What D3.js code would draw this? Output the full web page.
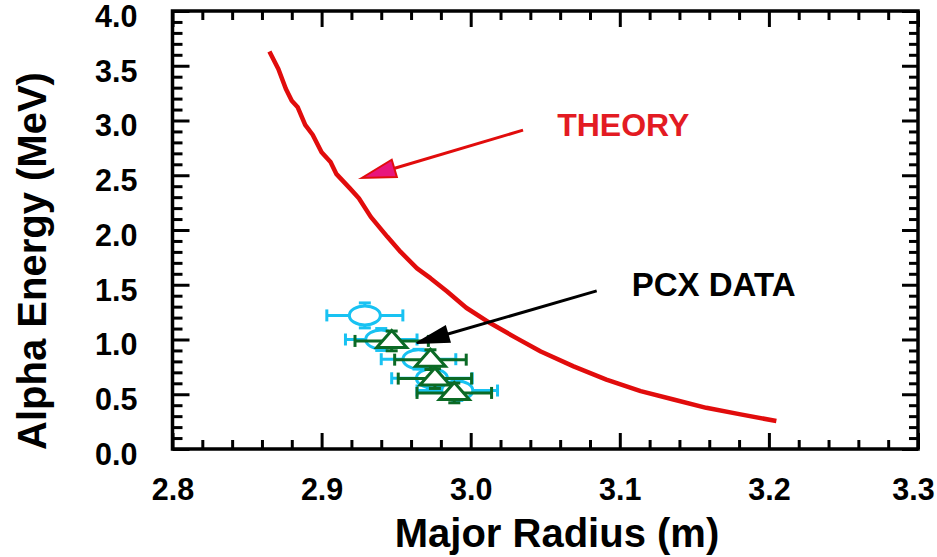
<!DOCTYPE html>
<meta charset="utf-8">
<style>
body { margin: 0; background: #fff; }
text { font-family: "Liberation Sans", Arial, sans-serif; font-weight: bold; }
.frame { fill: none; stroke: #000; stroke-width: 3.5; }
.tick line { stroke: #000; stroke-width: 3; }
</style>
<svg width="937" height="557"></svg>
<script src="https://d3js.org/d3.v7.min.js"></script>
<script>

// theory curve
var theoryR = [2.865, 2.871, 2.876, 2.880, 2.884, 2.889, 2.894, 2.900, 2.906, 2.910,
               2.919, 2.925, 2.933, 2.944, 2.953, 2.964, 2.973, 2.984, 2.997, 3.013,
               3.031, 3.047, 3.069, 3.091, 3.114, 3.136, 3.158, 3.181, 3.205];
var theoryE = [3.63, 3.47, 3.29, 3.18, 3.12, 2.96, 2.87, 2.71, 2.62, 2.51,
               2.38, 2.29, 2.12, 1.94, 1.80, 1.65, 1.56, 1.44, 1.29, 1.15,
               1.01, 0.89, 0.755, 0.634, 0.528, 0.452, 0.376, 0.316, 0.255];

// PCX data, circles (cyan)
var circR    = [2.929, 2.940, 2.965, 2.974, 2.991];
var circE    = [1.22, 1.00, 0.82, 0.646, 0.534];
var circRErr = [0.0255, 0.024, 0.025, 0.027, 0.027];
var circEErr = [0.114, 0.10, 0.09, 0.09, 0.09];

// PCX data, triangles (green)
var triR    = [2.947, 2.973, 2.976, 2.989];
var triE    = [0.987, 0.816, 0.643, 0.512];
var triRErr = [0.0246, 0.024, 0.0246, 0.025];
var triEErr = [0.09, 0.09, 0.09, 0.09];

var xTicks = [2.8, 2.9, 3.0, 3.1, 3.2, 3.3];
var yTicks = [0.0, 0.5, 1.0, 1.5, 2.0, 2.5, 3.0, 3.5, 4.0];

var svg = d3.select("svg");

var x = d3.scaleLinear().domain([2.8, 3.3]).range([172.5, 918]),
    y = d3.scaleLinear().domain([0, 4]).range([449, 11]);

var xMinor = d3.range(2.8, 3.3, 0.02).filter(function(v) { return Math.abs(v * 10 - Math.round(v * 10)) > 0.01; }),
    yMinor = d3.range(0, 4, 0.1).filter(function(v) { return Math.abs(v * 2 - Math.round(v * 2)) > 0.01; });

var fmt = d3.format(".1f");

// ticks on all four sides, pointing inward
function ticks(axis, vals, size, labels) {
  return axis.tickValues(vals).tickSize(-size).tickSizeOuter(0)
    .tickFormat(labels ? fmt : "");
}

var axBottom = svg.append("g").attr("transform", "translate(0," + y(0) + ")");
axBottom.call(ticks(d3.axisBottom(x), xMinor, 9, false));
var xLab = axBottom.append("g").call(ticks(d3.axisBottom(x), xTicks, 16, true).tickPadding(29));

var axLeft = svg.append("g").attr("transform", "translate(" + x(2.8) + ",0)");
axLeft.call(ticks(d3.axisLeft(y), yMinor, 10, false));
var yLab = axLeft.append("g").call(ticks(d3.axisLeft(y), yTicks, 17, true).tickPadding(35));

var axTop = svg.append("g").attr("transform", "translate(0," + y(4) + ")");
axTop.call(ticks(d3.axisTop(x), xMinor, 9, false));
axTop.append("g").call(ticks(d3.axisTop(x), xTicks, 16, false));

var axRight = svg.append("g").attr("transform", "translate(" + x(3.3) + ",0)");
axRight.call(ticks(d3.axisRight(y), yMinor, 9, false));
axRight.append("g").call(ticks(d3.axisRight(y), yTicks, 16, false));

svg.selectAll(".domain").remove();
svg.selectAll(".tick text")
    .attr("fill", "#000")
    .style("font-size", "30.5px")
    .style("font-family", "Liberation Sans, Arial, sans-serif")
    .style("font-weight", "bold");

yLab.selectAll(".tick text").attr("dy", "0.5em");
// last x label sits a little inside the window edge
xLab.selectAll(".tick text").filter(function(d) { return d === 3.3; }).attr("dx", -5);

svg.append("rect")
    .attr("class", "frame")
    .attr("x", x(2.8))
    .attr("y", y(4))
    .attr("width", x(3.3) - x(2.8))
    .attr("height", y(0) - y(4));

// axis titles
svg.append("text")
    .attr("x", 557)
    .attr("y", 547)
    .attr("text-anchor", "middle")
    .style("font-size", "40px")
    .text("Major Radius (m)");

svg.append("text")
    .attr("transform", "translate(46," + 261 + ") rotate(-90)")
    .attr("text-anchor", "middle")
    .style("font-size", "40px")
    .text("Alpha Energy (MeV)");

// theory curve
var line = d3.line()
    .x(function(d, i) { return x(theoryR[i]); })
    .y(function(d) { return y(d); });

svg.append("path")
    .datum(theoryE)
    .attr("d", line)
    .attr("fill", "none")
    .attr("stroke", "#e10c0c")
    .attr("stroke-width", 4.5)
    .attr("stroke-linejoin", "round");

// error bars
function errorBars(cls, R, E, RErr, EErr, color) {
  var g = svg.append("g").attr("class", cls)
      .attr("stroke", color).attr("stroke-width", 3);
  R.forEach(function(r, i) {
    var cx = x(r), cy = y(E[i]),
        x0 = x(r - RErr[i]), x1 = x(r + RErr[i]),
        y0 = y(E[i] - EErr[i]), y1 = y(E[i] + EErr[i]);
    g.append("line").attr("x1", x0).attr("x2", x1).attr("y1", cy).attr("y2", cy);
    g.append("line").attr("x1", x0).attr("x2", x0).attr("y1", cy - 6).attr("y2", cy + 6);
    g.append("line").attr("x1", x1).attr("x2", x1).attr("y1", cy - 6).attr("y2", cy + 6);
    g.append("line").attr("x1", cx).attr("x2", cx).attr("y1", y0).attr("y2", y1);
    g.append("line").attr("x1", cx - 6).attr("x2", cx + 6).attr("y1", y0).attr("y2", y0);
    g.append("line").attr("x1", cx - 6).attr("x2", cx + 6).attr("y1", y1).attr("y2", y1);
  });
}

var cyan = "#18c2f2", green = "#0b6a25";

errorBars("circ-err", circR, circE, circRErr, circEErr, cyan);

svg.selectAll(".circ")
    .data(circE)
    .enter().append("ellipse")
    .attr("class", "circ")
    .attr("cx", function(d, i) { return x(circR[i]); })
    .attr("cy", function(d) { return y(d); })
    .attr("rx", 15.5)
    .attr("ry", 9.5)
    .attr("fill", "#fff")
    .attr("stroke", cyan)
    .attr("stroke-width", 3);

errorBars("tri-err", triR, triE, triRErr, triEErr, green);

svg.selectAll(".tri")
    .data(triE)
    .enter().append("path")
    .attr("class", "tri")
    .attr("transform", function(d, i) { return "translate(" + x(triR[i]) + "," + y(d) + ")"; })
    .attr("d", "M0,-10.5L15,6.5L-15,6.5Z")
    .attr("fill", "#fff")
    .attr("stroke", green)
    .attr("stroke-width", 3)
    .attr("stroke-linejoin", "miter");

// annotations
function arrow(r0, e0, r1, e1, len, half, lineColor, headFill) {
  var sx = x(r0), sy = y(e0), tx = x(r1), ty = y(e1);
  var dx = tx - sx, dy = ty - sy, L = Math.sqrt(dx * dx + dy * dy);
  var ux = dx / L, uy = dy / L;
  var bx = tx - ux * len, by = ty - uy * len;
  svg.append("line")
      .attr("x1", sx).attr("y1", sy).attr("x2", bx + ux * 4).attr("y2", by + uy * 4)
      .attr("stroke", lineColor).attr("stroke-width", 3);
  svg.append("path")
      .attr("d", "M" + tx + "," + ty +
                 "L" + (bx - uy * half) + "," + (by + ux * half) +
                 "L" + (bx + uy * half) + "," + (by - ux * half) + "Z")
      .attr("fill", headFill)
      .attr("stroke", lineColor)
      .attr("stroke-width", 2)
      .attr("stroke-linejoin", "miter");
}

arrow(3.0351, 2.912, 2.9269, 2.475, 34, 9, "#e10c0c", "#e8157c");
arrow(3.0845, 1.444, 2.9638, 0.967, 32, 8, "#000", "#000");

svg.append("text")
    .attr("x", x(3.058))
    .attr("y", y(2.86))
    .attr("fill", "#e31b23")
    .style("font-size", "32px")
    .text("THEORY");

svg.append("text")
    .attr("x", x(3.108))
    .attr("y", y(1.40))
    .attr("fill", "#000")
    .style("font-size", "33px")
    .text("PCX DATA");

</script>
